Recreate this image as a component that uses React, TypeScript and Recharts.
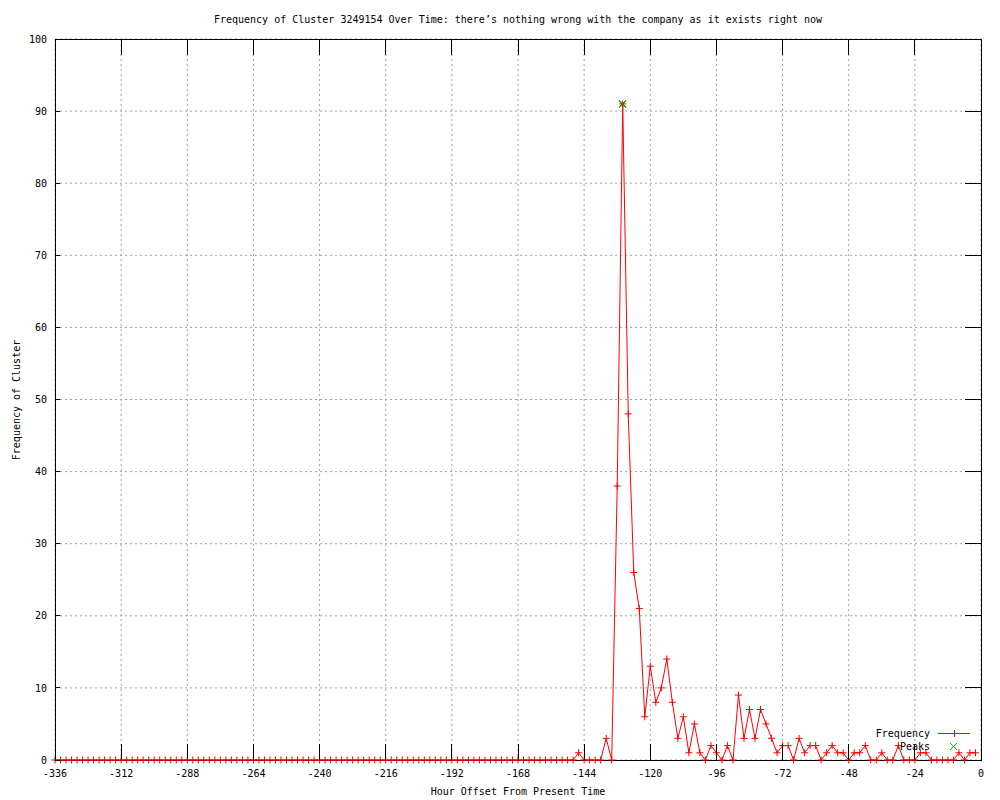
import {
  CartesianGrid,
  ComposedChart,
  Legend,
  Line,
  ReferenceArea,
  Scatter,
  XAxis,
  YAxis
} from "recharts";

// hour offsets, one point every 2 hours
const hours = [
  -336, -334, -332, -330, -328, -326, -324, -322, -320, -318, -316, -314,
  -312, -310, -308, -306, -304, -302, -300, -298, -296, -294, -292, -290,
  -288, -286, -284, -282, -280, -278, -276, -274, -272, -270, -268, -266,
  -264, -262, -260, -258, -256, -254, -252, -250, -248, -246, -244, -242,
  -240, -238, -236, -234, -232, -230, -228, -226, -224, -222, -220, -218,
  -216, -214, -212, -210, -208, -206, -204, -202, -200, -198, -196, -194,
  -192, -190, -188, -186, -184, -182, -180, -178, -176, -174, -172, -170,
  -168, -166, -164, -162, -160, -158, -156, -154, -152, -150, -148, -146,
  -144, -142, -140, -138, -136, -134, -132, -130, -128, -126, -124, -122,
  -120, -118, -116, -114, -112, -110, -108, -106, -104, -102, -100, -98,
  -96, -94, -92, -90, -88, -86, -84, -82, -80, -78, -76, -74,
  -72, -70, -68, -66, -64, -62, -60, -58, -56, -54, -52, -50,
  -48, -46, -44, -42, -40, -38, -36, -34, -32, -30, -28, -26,
  -24, -22, -20, -18, -16, -14, -12, -10, -8, -6, -4, -2
];

const frequency = [
  0, 0, 0, 0, 0, 0, 0, 0, 0, 0, 0, 0,
  0, 0, 0, 0, 0, 0, 0, 0, 0, 0, 0, 0,
  0, 0, 0, 0, 0, 0, 0, 0, 0, 0, 0, 0,
  0, 0, 0, 0, 0, 0, 0, 0, 0, 0, 0, 0,
  0, 0, 0, 0, 0, 0, 0, 0, 0, 0, 0, 0,
  0, 0, 0, 0, 0, 0, 0, 0, 0, 0, 0, 0,
  0, 0, 0, 0, 0, 0, 0, 0, 0, 0, 0, 0,
  0, 0, 0, 0, 0, 0, 0, 0, 0, 0, 0, 1,
  0, 0, 0, 0, 3, 0, 38, 91, 48, 26, 21, 6,
  13, 8, 10, 14, 8, 3, 6, 1, 5, 1, 0, 2,
  1, 0, 2, 0, 9, 3, 7, 3, 7, 5, 3, 1,
  2, 2, 0, 3, 1, 2, 2, 0, 1, 2, 1, 1,
  0, 1, 1, 2, 0, 0, 1, 0, 0, 2, 0, 0,
  0, 1, 1, 0, 0, 0, 0, 0, 1, 0, 1, 1
];

const peakHours = [-130];
const peakValues = [91];

const xTicks = [-336, -312, -288, -264, -240, -216, -192, -168, -144, -120, -96, -72, -48, -24, 0];
const yTicks = [0, 10, 20, 30, 40, 50, 60, 70, 80, 90, 100];

const TITLE =
  "Frequency of Cluster 3249154 Over Time: there\u2019s nothing wrong with the company as it exists right now";

const FONT = '"DejaVu Sans Mono", "Liberation Mono", monospace';
const RED = "#ff0000";
const GREEN = "#00c000";
const PLOT = { left: 55, top: 39, right: 981, bottom: 760 };

const chartData = hours.map((h, i) => ({ h, freq: frequency[i] }));
const peakData = peakHours.map((h, i) => ({ h, peak: peakValues[i] }));

const plus = (x: number, y: number, r = 3.5) =>
  `M${x - r},${y}H${x + r}M${x},${y - r}V${y + r}`;
const cross = (x: number, y: number, r = 3.5) =>
  `M${x - r},${y - r}L${x + r},${y + r}M${x - r},${y + r}L${x + r},${y - r}`;

const PlusDot = (props: any) => {
  const { cx, cy, index } = props;
  if (cx == null || cy == null) return <g key={index} />;
  return <path key={index} d={plus(cx, cy)} stroke={RED} strokeWidth={1} fill="none" />;
};

const CrossShape = (props: any) => {
  const { cx, cy } = props;
  if (cx == null || cy == null) return <g />;
  return (
    <path d={cross(cx, cy)} stroke={GREEN} strokeWidth={1.3} fill="none" shapeRendering="crispEdges" />
  );
};

const XTick = (props: any) => {
  const { x, payload } = props;
  return (
    <g>
      <line x1={x} x2={x} y1={PLOT.bottom} y2={PLOT.bottom - 16} stroke="#000" shapeRendering="crispEdges" />
      <line x1={x} x2={x} y1={PLOT.top} y2={PLOT.top + 16} stroke="#000" shapeRendering="crispEdges" />
      <text x={x} y={PLOT.bottom + 17} textAnchor="middle" fontFamily={FONT} fontSize={10} fill="#000">
        {payload.value}
      </text>
    </g>
  );
};

const YTick = (props: any) => {
  const { y, payload } = props;
  return (
    <g>
      <line x1={PLOT.left} x2={PLOT.left + 5} y1={y} y2={y} stroke="#000" shapeRendering="crispEdges" />
      <line x1={PLOT.right} x2={PLOT.right - 16} y1={y} y2={y} stroke="#000" shapeRendering="crispEdges" />
      <text x={PLOT.left - 8} y={y} dy="0.36em" textAnchor="end" fontFamily={FONT} fontSize={10} fill="#000">
        {payload.value}
      </text>
    </g>
  );
};

const LegendBox = () => (
  <div style={{ fontFamily: FONT, fontSize: 10, color: "#000" }}>
    <div style={{ display: "flex", alignItems: "center", height: 13 }}>
      <span style={{ width: 90, textAlign: "right", lineHeight: "13px" }}>Frequency</span>
      <svg width={50} height={13} style={{ display: "block" }}>
        <line x1={8} x2={40} y1={6.5} y2={6.5} stroke={RED} strokeWidth={1} />
        <path d={plus(24.5, 6.5)} stroke={RED} strokeWidth={1} fill="none" />
      </svg>
    </div>
    <div style={{ display: "flex", alignItems: "center", height: 13 }}>
      <span style={{ width: 90, textAlign: "right", lineHeight: "13px" }}>Peaks</span>
      <svg width={50} height={13} style={{ display: "block" }}>
        <path
          d={cross(23.5, 6.5)}
          stroke={GREEN}
          strokeWidth={1.3}
          fill="none"
          shapeRendering="crispEdges"
        />
      </svg>
    </div>
  </div>
);

const App = () => {
  return (
    <div style={{ position: "absolute", left: 0, top: 0, width: 1000, height: 800, background: "#fff" }}>
      <ComposedChart
        width={1000}
        height={800}
        data={chartData}
        margin={{ top: PLOT.top, right: 1000 - PLOT.right, bottom: 0, left: 0 }}
      >
        <CartesianGrid stroke="#a0a0a0" strokeDasharray="2 3" />
        <XAxis
          dataKey="h"
          type="number"
          domain={[-336, 0]}
          ticks={xTicks}
          interval={0}
          height={40}
          axisLine={false}
          tickLine={false}
          tick={<XTick />}
        />
        <YAxis
          type="number"
          domain={[0, 100]}
          ticks={yTicks}
          interval={0}
          width={55}
          axisLine={false}
          tickLine={false}
          tick={<YTick />}
        />
        <ReferenceArea
          x1={-336}
          x2={0}
          y1={0}
          y2={100}
          fill="none"
          fillOpacity={0}
          stroke="#000"
          strokeWidth={1}
          shapeRendering="crispEdges"
        />
        <Line
          type="linear"
          dataKey="freq"
          stroke={RED}
          strokeWidth={1}
          dot={PlusDot}
          activeDot={false}
          isAnimationActive={false}
        />
        <Scatter data={peakData} dataKey="peak" shape={CrossShape} isAnimationActive={false} />
        <Legend
          layout="vertical"
          align="center"
          verticalAlign="middle"
          content={LegendBox}
          wrapperStyle={{ left: 840, top: 727, width: 140 }}
        />
      </ComposedChart>
      <svg
        width={1000}
        height={800}
        style={{ position: "absolute", left: 0, top: 0, pointerEvents: "none" }}
      >
        <text x={518} y={23} textAnchor="middle" fontFamily={FONT} fontSize={10} fill="#000">
          {TITLE}
        </text>
        <text x={518} y={795} textAnchor="middle" fontFamily={FONT} fontSize={10} fill="#000">
          Hour Offset From Present Time
        </text>
        <text
          x={20}
          y={400}
          textAnchor="middle"
          transform="rotate(-90, 20, 400)"
          fontFamily={FONT}
          fontSize={10}
          fill="#000"
        >
          Frequency of Cluster
        </text>
      </svg>
    </div>
  );
};

export default App;
